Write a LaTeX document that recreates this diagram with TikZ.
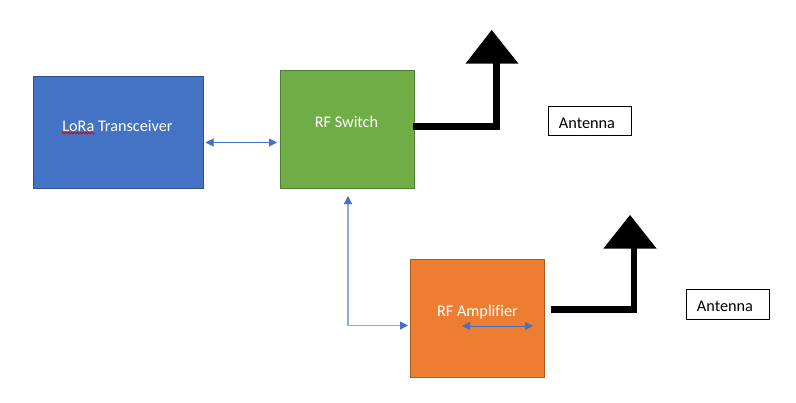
\documentclass[tikz,border=0pt]{standalone}
\usepackage{fontspec}
\setmainfont{Carlito}[Ligatures=NoCommon]
\usetikzlibrary{arrows.meta,decorations.pathmorphing}
\definecolor{lorablue}{HTML}{4472C4}
\definecolor{loraedge}{HTML}{2F528F}
\definecolor{switchgreen}{HTML}{70AD47}
\definecolor{switchedge}{HTML}{507E32}
\definecolor{ampfill}{HTML}{ED7D31}
\definecolor{ampedge}{HTML}{AE5A21}
\definecolor{linkpale}{HTML}{8FAADC}
\tikzset{
  x=0.75pt,y=-0.75pt,
  block/.style={draw=#1,line width=0.75pt,inner sep=0pt,anchor=north west},
  caption/.style={text=white,font=\fontsize{12.2pt}{14pt}\selectfont,inner sep=0pt},
  tagbox/.style={draw=black,line width=0.75pt,fill=white,inner sep=0pt,anchor=north west,minimum width=62.2pt,minimum height=22pt},
  tagtext/.style={text=black,font=\fontsize{12.2pt}{14pt}\selectfont,inner sep=0pt},
  link/.style={draw=lorablue,line width=0.75pt,{Triangle[length=6pt,width=6pt]}-{Triangle[length=6pt,width=6pt]}},
  palelink/.style={draw=linkpale,line width=1pt,{Triangle[length=6pt,width=6pt,color=lorablue]}-{Triangle[length=6pt,width=6pt,color=lorablue]}},
  feed/.style={draw=black,line width=4.8pt,line join=miter},
  mast/.style={fill=black,draw=none},
  spell/.style={draw=red!85!black,line width=0.5pt,decorate,decoration={zigzag,amplitude=0.75pt,segment length=2.2pt}}
}
\begin{document}
\begin{tikzpicture}
\useasboundingbox[fill=white] (0,0) rectangle (796,403);

% Functional blocks
\node[block=loraedge,fill=lorablue,minimum width=127.6pt,minimum height=83.6pt] (lora) at (33,76.5) {};
\node[block=switchedge,fill=switchgreen,minimum width=100.2pt,minimum height=88.5pt] (switch) at (280,70) {};
\node[block=ampedge,fill=ampfill,minimum width=100.2pt,minimum height=88.5pt] (amp) at (410,259) {};

% Block captions
\node[caption] (loratext) at (117.5,126) {LoRa Transceiver};
\node[caption] (switchtext) at (346.5,122) {RF Switch};
\node[caption] (amptext) at (477.5,312.5) {RF Amplifier};
\coordinate (spellL) at (62,133);
\coordinate (spellR) at (94.5,133);
\draw[spell] (spellL) -- (spellR);

% Bidirectional links
\coordinate (linkA) at (205.5,142.5);
\coordinate (linkB) at (277,142.5);
\draw[link] (linkA) -- (linkB);
\coordinate (busTop) at (348,196);
\coordinate (busCorner) at (348,325.5);
\coordinate (busEnd) at (408,325.5);
\draw[palelink] (busTop) -- (busCorner) -- (busEnd);
\coordinate (innerL) at (462,326);
\coordinate (innerR) at (533,326);
\draw[link] (innerL) -- (innerR);

% Upper antenna
\coordinate (feedA) at (413,126.3);
\coordinate (bendA) at (496.3,126.3);
\coordinate (mastA) at (496.3,60);
\draw[feed] (feedA) -- (bendA) -- (mastA);
\fill[mast] (491.7,30) -- (518.5,63.7) -- (465.5,63.7) -- cycle;
\node[tagbox] (tagA) at (548,106) {};
\node[tagtext] (tagAtext) at (587,123) {Antenna};

% Lower antenna
\coordinate (feedB) at (551,309.3);
\coordinate (bendB) at (633.7,309.3);
\coordinate (mastB) at (633.7,245);
\draw[feed] (feedB) -- (bendB) -- (mastB);
\fill[mast] (630,215) -- (656.7,248.7) -- (603.3,248.7) -- cycle;
\node[tagbox] (tagB) at (686,289.3) {};
\node[tagtext] (tagBtext) at (725,306.5) {Antenna};
\end{tikzpicture}
\end{document}
